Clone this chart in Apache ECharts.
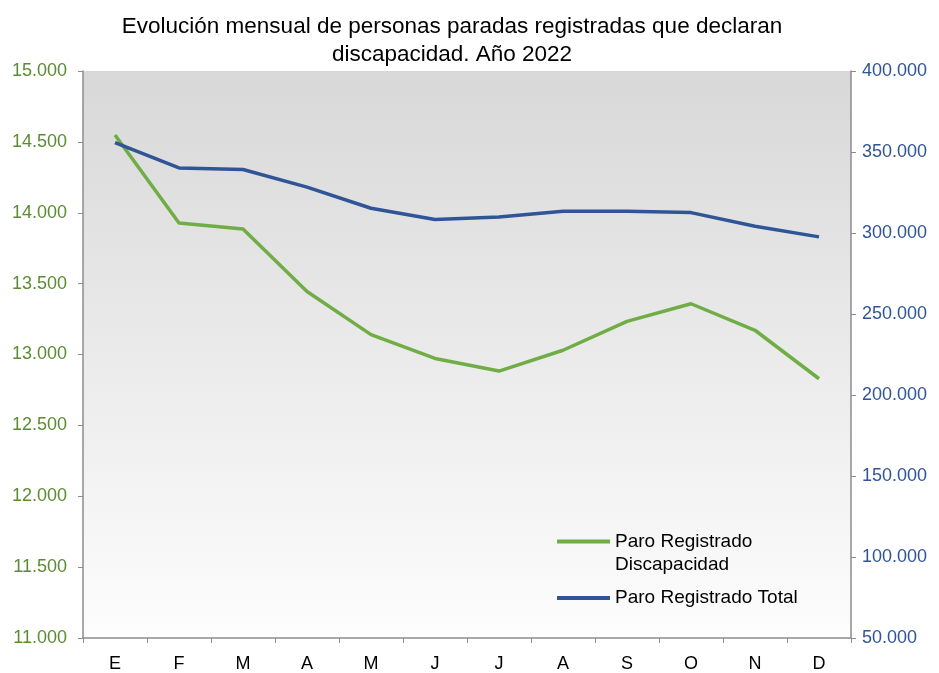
<!DOCTYPE html>
<html>
<head>
<meta charset="utf-8">
<script src="https://cdn.jsdelivr.net/npm/echarts@6/dist/echarts.min.js"></script>
<style>
  html, body { margin: 0; padding: 0; background: #fff; }
  #main { width: 939px; height: 673px; }
</style>
</head>
<body>
<div id="main"></div>
<script>
// meses
var meses = ['E', 'F', 'M', 'A', 'M', 'J', 'J', 'A', 'S', 'O', 'N', 'D'];
// paro registrado con discapacidad (eje izquierdo)
var paroDiscapacidad = [14548, 13928, 13886, 13444, 13140, 12972, 12883, 13030, 13234, 13358, 13171, 12829];
// paro registrado total (eje derecho)
var paroTotal = [355800, 340200, 339200, 328300, 315300, 308300, 309900, 313400, 313400, 312600, 304200, 297600];

var verde = '#70ad47';
var azul = '#2f5597';
var fuente = 'Liberation Sans, Arial, sans-serif';

// 15000 -> "15.000"
function miles(v) {
  return String(Math.round(v)).replace(/\B(?=(\d{3})+(?!\d))/g, '.');
}

var chart = echarts.init(document.getElementById('main'));

var option = {
  animation: false,
  title: {
    text: 'Evolución mensual de personas paradas registradas que declaran\ndiscapacidad. Año 2022',
    left: 447,
    top: 8,
    textAlign: 'center',
    textStyle: {
      fontFamily: fuente,
      fontSize: 22.5,
      fontWeight: 'normal',
      lineHeight: 28,
      color: '#000'
    }
  },
  grid: {
    left: 83,
    right: 88,
    top: 71,
    bottom: 32,
    show: true,
    borderWidth: 0,
    backgroundColor: {
      type: 'linear', x: 0, y: 0, x2: 0, y2: 1,
      colorStops: [
        { offset: 0, color: '#d8d8d8' },
        { offset: 1, color: '#fdfdfd' }
      ]
    }
  },
  legend: [
    {
      left: 557,
      top: 507,
      padding: 0,
      orient: 'vertical',
      icon: 'rect',
      itemWidth: 53,
      itemHeight: 4,
      data: ['Paro Registrado Discapacidad'],
      // linea en blanco arriba para que el icono quede a la altura de la primera linea
      formatter: function () { return ' \nParo Registrado\nDiscapacidad'; },
      textStyle: { fontFamily: fuente, fontSize: 19, lineHeight: 23, color: '#000' }
    },
    {
      left: 557,
      top: 587,
      padding: 0,
      orient: 'vertical',
      icon: 'rect',
      itemWidth: 53,
      itemHeight: 4,
      data: ['Paro Registrado Total'],
      textStyle: { fontFamily: fuente, fontSize: 19, lineHeight: 22, color: '#000' }
    }
  ],
  xAxis: {
    type: 'category',
    data: meses,
    boundaryGap: true,
    axisLine: { lineStyle: { color: '#8c8c8c', width: 1.5 } },
    axisTick: { show: true, length: 5, lineStyle: { color: '#8c8c8c' } },
    axisLabel: { fontFamily: fuente, fontSize: 18, color: '#000', margin: 17 },
    splitLine: { show: false }
  },
  yAxis: [
    {
      type: 'value',
      position: 'left',
      min: 11000,
      max: 15000,
      interval: 500,
      axisLine: { show: true, lineStyle: { color: '#8c8c8c', width: 1.5 } },
      axisTick: { show: true, length: 5, lineStyle: { color: '#8c8c8c' } },
      axisLabel: { fontFamily: fuente, fontSize: 18, color: '#5b8c32', margin: 16, formatter: miles },
      splitLine: { show: false }
    },
    {
      type: 'value',
      position: 'right',
      min: 50000,
      max: 400000,
      interval: 50000,
      axisLine: { show: true, lineStyle: { color: '#8c8c8c', width: 1.5 } },
      axisTick: { show: true, length: 5, lineStyle: { color: '#8c8c8c' } },
      axisLabel: { fontFamily: fuente, fontSize: 18, color: azul, margin: 11, formatter: miles },
      splitLine: { show: false }
    }
  ],
  series: [
    {
      name: 'Paro Registrado Discapacidad',
      type: 'line',
      yAxisIndex: 0,
      data: paroDiscapacidad,
      showSymbol: false,
      symbol: 'none',
      lineStyle: { color: verde, width: 3.5 },
      itemStyle: { color: verde }
    },
    {
      name: 'Paro Registrado Total',
      type: 'line',
      yAxisIndex: 1,
      data: paroTotal,
      showSymbol: false,
      symbol: 'none',
      lineStyle: { color: azul, width: 3.5 },
      itemStyle: { color: azul }
    }
  ]
};

chart.setOption(option);
</script>
</body>
</html>
